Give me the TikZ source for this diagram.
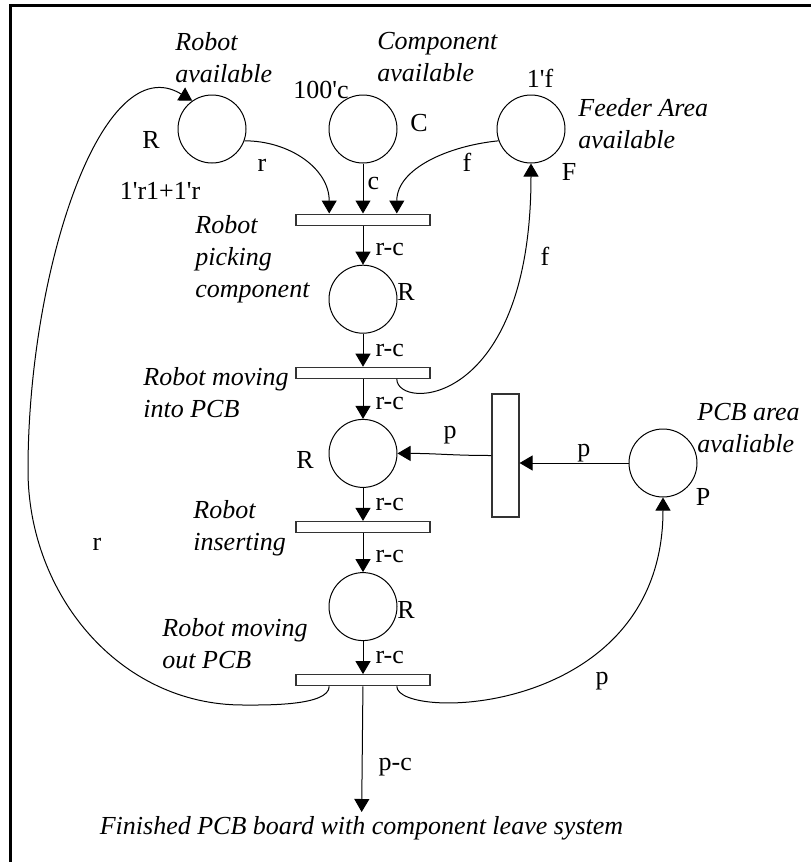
\documentclass[tikz,border=0pt]{standalone}
\usepackage{fontspec}
\newfontfamily\petri{Liberation Serif}
\usetikzlibrary{arrows.meta,positioning,calc}

\begin{document}
\begin{tikzpicture}[x=0.5pt,y=-0.5pt,
  font=\petri\fontsize{13}{16}\selectfont,
  node distance=16.5pt,
  place/.style={circle,draw,line width=0.5pt,minimum size=34pt,inner sep=0pt},
  trans/.style={draw=black!80,line width=0.6pt,minimum width=67pt,minimum height=5.5pt,inner sep=0pt},
  vtrans/.style={trans,minimum width=13.5pt,minimum height=61.5pt},
  desc/.style={font=\petri\fontsize{13}{16}\selectfont\itshape,align=left,anchor=north west,inner sep=0pt},
  tag/.style={inner sep=0pt},
  rc/.style={right=6pt,inner sep=0pt},
  arrow/.style={-{Triangle[length=6.5pt,width=7.5pt]},line width=0.5pt}
]
\useasboundingbox (0,0) rectangle (811,862);
% page frame
\draw[line width=1.5pt] (10,862) -- (10,5) -- (811,5);

% places and transitions
\node[place] (ra) at (212,129) {};
\node[place] (ca) at (363,129) {};
\node[place] (fa) at (531,129) {};
\node[trans,below=25pt of ca] (t1) {};
\node[place,below=19.5pt of t1] (p2) {};
\node[trans,below=of p2] (t2) {};
\node[place,below=20pt of t2] (p3) {};
\node[trans,below=of p3] (t3) {};
\node[place,below=19.5pt of t3] (p4) {};
\node[trans,below=of p4] (t4) {};
\node[vtrans] (tv) at (505.5,455.5) {};
\node[place] (pcb) at (663,463) {};
\node[tag,inner sep=2pt,anchor=north,font=\petri\fontsize{13}{16}\selectfont\itshape] (done) at (361.5,812) {Finished PCB board with component leave system};

% names
\node[desc] (nra) at (175,32) {Robot\\available};
\node[desc] (nca) at (377,32) {Component\\available};
\node[desc] (nfa) at (578,98) {Feeder Area\\available};
\node[desc] (nt1) at (195,215) {Robot\\picking\\component};
\node[desc] (nt2) at (143,367) {Robot moving\\into PCB};
\node[desc] (nt3) at (193,500) {Robot\\inserting};
\node[desc] (nt4) at (162,618) {Robot moving\\out PCB};
\node[desc] (npcb) at (697,403) {PCB area\\avaliable};

% colour sets and markings
\node[tag] (cra) at (151,140) {R};
\node[tag] (cca) at (419,123) {C};
\node[tag] (cfa) at (569,172) {F};
\node[tag] (cp2) at (406,292) {R};
\node[tag] (cp3) at (305,460) {R};
\node[tag] (cp4) at (406,610) {R};
\node[tag] (cpcb) at (703,497) {P};
\node[tag] (mra) at (160,191) {1'r1+1'r};
\node[tag] (mca) at (321,90) {100'c};
\node[tag] (mfa) at (540,78) {1'f};

% arcs
\coordinate (t1a) at ($(t1.north)!0.5!(t1.north west)$);
\coordinate (t1b) at ($(t1.north)!0.5!(t1.north east)$);
\coordinate (t2c) at ($(t2.south)!0.5!(t2.south east)$);
\coordinate (t4d) at ($(t4.south)!0.5!(t4.south west)$);
\coordinate (t4e) at ($(t4.south)!0.5!(t4.south east)$);
\draw[arrow] (ra.-20) .. controls +(45,0) and +(0,-45) .. (t1a);
\draw[arrow] (ca) -- node[tag,right=2pt,pos=0.4] (lc) {c} (t1);
\draw[arrow] (fa.200) .. controls +(-50,5) and +(0,-45) .. (t1b);
\draw[arrow] (t1) -- node[rc,pos=0.62] (lrc1) {r-c} (p2);
\draw[arrow] (p2) -- node[rc] (lrc2) {r-c} (t2);
\draw[arrow] (t2) -- node[rc,pos=0.62] (lrc3) {r-c} (p3);
\draw[arrow] (p3) -- node[rc] (lrc4) {r-c} (t3);
\draw[arrow] (t3) -- node[rc,pos=0.6] (lrc5) {r-c} (p4);
\draw[arrow] (p4) -- node[rc] (lrc6) {r-c} (t4);
\draw[arrow] (t2c) .. controls +(0,32) and +(0,245) .. (fa.south);
\draw[arrow] (pcb.west) -- node[tag,above,pos=0.41] (lp2) {p} (pcb.west -| tv.east);
\draw[arrow] (tv.west) .. controls +(-40,0) and +(40,0) .. (p3.east);
\draw[arrow] (t4e) .. controls +(0,35) and +(0,220) .. (pcb.south);
\draw[arrow] (t4d) .. controls +(0,20) and +(21,0) .. (243,705)
  .. controls +(-124,0) and +(0,124) .. (28,470)
  .. controls +(0,-200) and +(-90,-55) .. (ra.125);
\draw[arrow] (t4) -- node[tag,right=8pt,pos=0.64] (lpc) {p-c} (done);
\node[tag] (lr1) at (262,165) {r};
\node[tag] (lf1) at (467,162) {f};
\node[tag] (lf2) at (545,256) {f};
\node[tag] (lp1) at (450,435) {p};
\node[tag] (lp3) at (602,681) {p};
\node[tag] (lr2) at (97,544) {r};
\end{tikzpicture}
\end{document}
